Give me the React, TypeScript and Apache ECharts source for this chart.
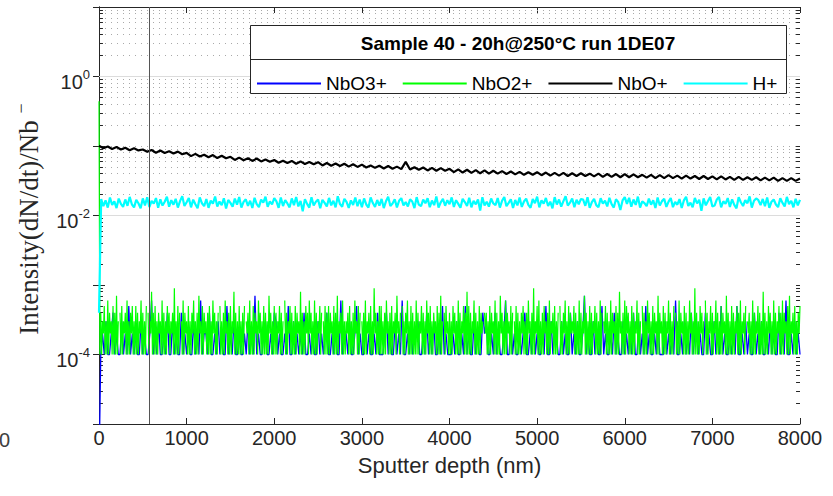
import React, { useEffect, useRef } from 'react';
import * as echarts from 'echarts';

// ---------------- data (intensities in units of 1e-4, i.e. value = n × 1e-4) ----------------
const UNIT = 1e-4;
const DEPTH_MAX = 8000; // nm
const STEP_NBO3 = 20; // nm between NbO3+ samples
const STEP_NBO2 = 10; // nm between NbO2+ samples
const STEP_NBO = 50; // nm between NbO+ samples
const STEP_H = 25; // nm between H+ samples
const MARKER_DEPTH = 570; // nm, vertical reference line
const X_TICK_STEP = 1000;
const Y_LABEL_EXPONENTS = [0, -2, -4];
const MINOR_TICK_NM = 45; // minor tick length along x, in axis units

const seriesNames = ['NbO3+', 'NbO2+', 'NbO+', 'H+'];
const seriesColors = ['#0000ff', '#00ff00', '#000000', '#00ffff'];
const seriesWidths = [1.3, 1.2, 2.2, 2.2];

const nbo3Plus = [
  0.02,
  1, 2, 1, 3, 1, 1, 2, 4, 1, 2, 1, 1, 3, 1, 2, 1, 5, 1, 2, 1,
  2, 1, 1, 3, 1, 2, 1, 1, 2, 6, 1, 2, 1, 3, 1, 1, 2, 1, 4, 1,
  1, 3, 1, 2, 1, 1, 4, 1, 2, 1, 2, 1, 1, 3, 1, 2, 1, 6, 1, 2,
  2, 1, 4, 1, 1, 2, 1, 3, 1, 2, 1, 1, 5, 1, 2, 1, 3, 1, 1, 2,
  1, 1, 2, 1, 3, 1, 2, 1, 7, 1, 2, 1, 1, 2, 3, 1, 1, 2, 1, 4,
  3, 1, 2, 1, 1, 2, 1, 5, 1, 1, 3, 1, 2, 1, 2, 1, 4, 1, 1, 2,
  1, 2, 1, 1, 3, 1, 2, 1, 2, 4, 1, 1, 2, 1, 3, 1, 1, 6, 1, 2,
  2, 1, 3, 1, 1, 2, 5, 1, 2, 1, 1, 3, 1, 2, 1, 1, 2, 1, 4, 1,
  1, 1, 2, 4, 1, 2, 1, 1, 3, 1, 2, 1, 6, 1, 1, 2, 1, 3, 1, 2,
  2, 3, 1, 1, 2, 1, 4, 1, 2, 1, 3, 1, 1, 2, 1, 5, 1, 2, 1, 1,
  1, 2, 1, 3, 1, 1, 2, 1, 5, 1, 2, 1, 1, 3, 1, 2, 1, 1, 4, 2,
  3, 1, 1, 2, 1, 4, 1, 2, 1, 1, 2, 6, 1, 1, 3, 1, 2, 1, 1, 2,
  1, 2, 4, 1, 1, 2, 1, 3, 1, 2, 1, 1, 2, 1, 5, 1, 1, 3, 1, 2,
  2, 1, 1, 3, 1, 2, 1, 1, 4, 1, 2, 1, 3, 1, 1, 2, 7, 1, 2, 1,
  1, 3, 1, 2, 1, 1, 5, 1, 2, 1, 1, 2, 1, 4, 1, 2, 1, 1, 3, 1,
  2, 1, 2, 1, 4, 1, 1, 3, 1, 2, 1, 5, 1, 2, 1, 1, 2, 1, 3, 1,
  1, 1, 3, 1, 2, 1, 2, 1, 6, 1, 1, 2, 1, 3, 1, 2, 1, 4, 1, 2,
  3, 1, 2, 1, 1, 4, 1, 2, 1, 1, 3, 1, 2, 1, 5, 1, 2, 1, 1, 2,
  1, 2, 1, 5, 1, 1, 2, 1, 3, 1, 2, 1, 1, 4, 1, 2, 1, 3, 1, 1,
  2, 1, 3, 1, 2, 1, 1, 4, 1, 2, 1, 6, 1, 1, 2, 1, 3, 1, 2, 1,
];

const nbo2Plus = [
  4400,
  1, 4, 1, 3, 2, 5, 1, 3, 1, 6, 1, 4, 2, 3, 1, 5, 1, 4, 1, 7,
  1, 3, 0, 4, 1, 5, 1, 3, 2, 4, 1, 6, 1, 3, 1, 4, 2, 5, 1, 3,
  1, 5, 1, 4, 1, 3, 2, 6, 1, 4, 1, 3, 1, 5, 0, 4, 1, 3, 2, 8,
  1, 4, 1, 5, 1, 3, 1, 4, 2, 3, 1, 6, 1, 4, 1, 3, 1, 5, 2, 4,
  1, 3, 2, 4, 1, 9, 1, 3, 1, 5, 1, 4, 0, 3, 1, 6, 1, 4, 2, 3,
  1, 5, 1, 3, 1, 4, 2, 6, 1, 3, 1, 4, 1, 7, 2, 3, 1, 5, 1, 4,
  2, 3, 1, 4, 1, 5, 1, 3, 1, 6, 2, 4, 1, 3, 1, 4, 0, 5, 1, 3,
  1, 4, 1, 6, 2, 3, 1, 4, 1, 5, 1, 3, 2, 8, 1, 4, 1, 3, 1, 5,
  1, 3, 1, 4, 1, 5, 0, 3, 2, 4, 1, 6, 1, 3, 1, 5, 1, 4, 2, 3,
  1, 6, 2, 4, 1, 3, 1, 5, 1, 4, 1, 3, 1, 7, 2, 4, 1, 3, 1, 5,
  1, 4, 1, 3, 2, 5, 1, 4, 1, 3, 0, 6, 1, 4, 1, 3, 2, 5, 1, 4,
  1, 3, 1, 5, 1, 4, 2, 3, 1, 8, 1, 4, 1, 3, 1, 5, 2, 4, 1, 6,
  2, 4, 1, 3, 1, 6, 1, 4, 1, 3, 2, 5, 1, 4, 0, 3, 1, 5, 1, 4,
  1, 5, 1, 4, 2, 3, 1, 5, 1, 4, 1, 7, 1, 3, 2, 4, 1, 6, 1, 3,
  1, 3, 2, 4, 1, 5, 1, 3, 1, 4, 1, 6, 2, 3, 1, 5, 1, 4, 0, 3,
  1, 4, 1, 6, 1, 3, 2, 4, 1, 5, 1, 3, 1, 9, 2, 4, 1, 3, 1, 5,
  1, 5, 1, 3, 1, 4, 1, 6, 2, 3, 1, 4, 1, 5, 1, 3, 2, 4, 1, 7,
  2, 3, 1, 4, 0, 5, 1, 3, 1, 4, 2, 6, 1, 3, 1, 5, 1, 4, 1, 3,
  1, 6, 1, 4, 1, 3, 2, 5, 1, 4, 1, 3, 1, 6, 2, 4, 1, 5, 1, 3,
  1, 4, 2, 3, 1, 5, 1, 4, 1, 7, 1, 3, 0, 4, 1, 5, 2, 3, 1, 4,
  1, 3, 1, 5, 2, 4, 1, 3, 1, 6, 1, 4, 1, 3, 2, 5, 1, 4, 1, 8,
  1, 5, 1, 4, 1, 3, 2, 6, 1, 4, 1, 3, 1, 5, 1, 4, 2, 3, 0, 4,
  2, 4, 1, 3, 1, 5, 1, 4, 2, 3, 1, 6, 1, 4, 1, 3, 1, 7, 2, 4,
  1, 3, 1, 6, 1, 4, 2, 3, 1, 5, 1, 4, 0, 3, 1, 5, 1, 4, 1, 3,
  1, 4, 2, 5, 1, 3, 1, 4, 1, 6, 2, 3, 1, 4, 1, 9, 1, 3, 2, 5,
  1, 6, 1, 3, 1, 4, 1, 5, 2, 3, 1, 4, 1, 6, 1, 3, 2, 4, 1, 5,
  1, 3, 1, 4, 0, 5, 1, 3, 1, 4, 2, 6, 1, 3, 1, 5, 1, 4, 2, 3,
  2, 5, 1, 4, 1, 3, 1, 6, 1, 4, 1, 3, 2, 7, 1, 4, 1, 3, 1, 5,
  1, 4, 1, 3, 2, 5, 1, 4, 1, 3, 1, 6, 1, 4, 0, 3, 2, 5, 1, 4,
  1, 3, 1, 6, 1, 4, 2, 3, 1, 5, 1, 4, 1, 8, 2, 3, 1, 4, 1, 6,
  1, 5, 2, 4, 1, 3, 1, 5, 1, 4, 1, 3, 2, 6, 1, 4, 1, 3, 0, 5,
  1, 4, 1, 3, 1, 6, 2, 4, 1, 3, 1, 5, 1, 4, 2, 3, 1, 7, 1, 4,
  2, 3, 1, 5, 1, 4, 1, 3, 2, 6, 1, 4, 1, 3, 1, 5, 0, 4, 1, 3,
  1, 6, 1, 4, 2, 3, 1, 5, 1, 4, 1, 3, 1, 6, 2, 4, 1, 3, 1, 9,
  1, 4, 1, 3, 1, 5, 2, 4, 1, 3, 0, 6, 1, 4, 1, 3, 2, 5, 1, 4,
  1, 3, 2, 6, 1, 4, 1, 3, 1, 5, 1, 4, 2, 3, 1, 7, 1, 4, 1, 3,
  1, 5, 1, 4, 1, 3, 2, 5, 1, 4, 1, 6, 1, 3, 2, 4, 1, 5, 0, 3,
  2, 4, 1, 3, 1, 6, 1, 4, 1, 3, 2, 5, 1, 4, 1, 3, 1, 8, 1, 4,
  1, 3, 1, 5, 2, 4, 1, 3, 1, 6, 1, 4, 1, 3, 2, 5, 1, 4, 1, 6,
  1, 4, 2, 3, 1, 5, 1, 7, 1, 3, 2, 4, 1, 5, 1, 3, 1, 4, 2, 5,
];

const nboPlus = [
  1010, 930, 985, 905, 965, 890, 945, 870, 925, 865,
  890, 825, 875, 800, 860, 795, 840, 780, 830, 760,
  795, 715, 770, 705, 750, 690, 740, 670, 725, 665,
  700, 630, 680, 625, 665, 610, 660, 600, 640, 595,
  630, 575, 615, 570, 610, 555, 600, 550, 590, 545,
  585, 525, 570, 520, 560, 515, 555, 505, 545, 500,
  540, 490, 525, 485, 520, 475, 515, 470, 505, 465,
  590, 460, 495, 455, 490, 445, 485, 440, 480, 440,
  470, 420, 460, 415, 455, 410, 450, 405, 445, 400,
  440, 400, 435, 395, 430, 390, 425, 385, 420, 385,
  420, 380, 415, 375, 410, 375, 410, 370, 405, 370,
  405, 370, 400, 365, 400, 360, 395, 360, 395, 355,
  395, 355, 390, 355, 385, 350, 385, 345, 380, 345,
  380, 345, 375, 340, 375, 340, 370, 335, 370, 335,
  365, 330, 365, 330, 360, 325, 360, 325, 355, 325,
  355, 320, 350, 320, 350, 315, 345, 315, 345, 315,
  340,
];

const hPlus = [
  4,
  172, 136, 165, 130, 181, 142, 160, 128, 175, 147, 133, 170, 138, 185, 145, 131, 168, 150, 127, 176,
  140, 183, 132, 162, 148, 178, 129, 171, 139, 158, 186, 134, 166, 143, 174, 130, 161, 190, 137, 155,
  179, 131, 169, 145, 127, 182, 150, 136, 173, 129, 164, 148, 188, 135, 159, 141, 177, 126, 167, 152,
  134, 175, 143, 184, 130, 157, 171, 138, 163, 128, 180, 146, 132, 169, 153, 187, 133, 160, 144, 178,
  160, 129, 181, 137, 166, 149, 131, 176, 141, 185, 135, 162, 115, 172, 147, 130, 183, 139, 158, 170,
  127, 168, 152, 135, 179, 140, 163, 131, 189, 146, 134, 174, 157, 129, 165, 142, 181, 136, 170, 132,
  176, 144, 130, 182, 151, 133, 167, 139, 173, 128, 160, 186, 137, 149, 171, 131, 163, 178, 140, 156,
  135, 171, 159, 128, 184, 143, 136, 169, 150, 177, 132, 164, 141, 188, 130, 155, 173, 138, 166, 145,
  182, 133, 166, 147, 129, 174, 156, 137, 180, 131, 162, 145, 170, 118, 183, 139, 158, 134, 176, 149,
  141, 178, 130, 163, 185, 136, 152, 171, 128, 167, 140, 181, 133, 159, 175, 142, 129, 172, 150, 187,
  131, 165, 148, 179, 137, 158, 127, 184, 144, 170, 134, 161, 189, 139, 153, 176, 132, 168, 145, 173,
  169, 138, 183, 129, 156, 174, 141, 131, 177, 148, 163, 135, 180, 146, 130, 171, 157, 120, 165, 184,
  147, 180, 134, 170, 142, 187, 130, 160, 151, 136, 175, 143, 166, 128, 182, 139, 161, 174, 133, 158,
  178, 132, 157, 143, 172, 128, 165, 186, 137, 153, 131, 179, 149, 168, 117, 176, 140, 162, 184, 135,
  139, 169, 185, 131, 160, 147, 178, 133, 171, 142, 127, 183, 155, 137, 167, 150, 188, 130, 163, 176,
  166, 141, 173, 136, 181, 129, 158, 170, 144, 132, 177, 152, 135, 185, 146, 163, 131, 174, 140, 168,
];

// ---------------- styling ----------------
const SANS = 'Liberation Sans, Arial, Helvetica, sans-serif';
const SERIF = 'Liberation Serif, Times New Roman, serif';
const AXIS_COLOR = '#262626';

// zero counts cannot be drawn on a log axis (they leave a gap, as in the original)
function toPairs(values: number[], step: number) {
  return values.map((v, i) => [i * step, v > 0 ? v * UNIT : null]);
}

const majorGridValues = Y_LABEL_EXPONENTS.map((e) => Math.pow(10, e));
const minorGridValues: number[] = [];
for (let e = -5; e <= 0; e++) {
  for (let k = 2; k <= 9; k++) minorGridValues.push(k * Math.pow(10, e));
}
minorGridValues.push(1e-1, 1e-3);

export default function App() {
  const ref = useRef<HTMLDivElement>(null);

  useEffect(() => {
    document.body.style.margin = '0';
    if (!ref.current) return;
    const chart = echarts.init(ref.current, undefined, { renderer: 'svg' });

    const yLabelFormatter = (v: number) => {
      const e = Math.round(Math.log10(v));
      return Y_LABEL_EXPONENTS.includes(e) ? `{b|10}{s|${e}}` : '';
    };

    const minorTickStyle = { color: AXIS_COLOR, width: 1, type: 'solid' as const };
    const gridMarkLine = {
      silent: true,
      symbol: ['none', 'none'],
      z: 1,
      label: { show: false },
      animation: false,
      data: [
        ...minorGridValues.map((v) => ({
          yAxis: v,
          lineStyle: { color: '#a9a9a9', width: 1, type: [1, 5] as any },
        })),
        ...majorGridValues.map((v) => ({
          yAxis: v,
          lineStyle: { color: '#dcdcdc', width: 1, type: 'solid' as const },
        })),
        // inward minor ticks on the left and right axes
        ...minorGridValues.map((v) => [
          { coord: [0, v], lineStyle: minorTickStyle },
          { coord: [MINOR_TICK_NM, v] },
        ]),
        ...minorGridValues.map((v) => [
          { coord: [DEPTH_MAX - MINOR_TICK_NM, v], lineStyle: minorTickStyle },
          { coord: [DEPTH_MAX, v] },
        ]),
      ],
    };

    const lineSeries = (i: number, data: any[], extra: any = {}) => ({
      name: seriesNames[i],
      type: 'line',
      data,
      color: seriesColors[i],
      symbol: 'none',
      showSymbol: false,
      connectNulls: false,
      clip: true,
      z: 2,
      lineStyle: { color: seriesColors[i], width: seriesWidths[i] },
      emphasis: { disabled: true },
      ...extra,
    });

    const axisCommonX = {
      type: 'value' as const,
      min: 0,
      max: DEPTH_MAX,
      interval: X_TICK_STEP,
      splitLine: { show: false },
      axisLine: { show: true, onZero: false, lineStyle: { color: AXIS_COLOR, width: 1 } },
      axisTick: { show: true, inside: true, length: 6, lineStyle: { color: AXIS_COLOR } },
    };
    const axisCommonY = {
      type: 'log' as const,
      logBase: 10,
      min: 1e-5,
      max: 10,
      splitLine: { show: false },
      axisLine: { show: true, lineStyle: { color: AXIS_COLOR, width: 1 } },
      axisTick: { show: true, inside: true, length: 6, lineStyle: { color: AXIS_COLOR } },
    };

    chart.setOption({
      animation: false,
      textStyle: { fontFamily: SANS },
      grid: { left: 99, right: 33, top: 7, bottom: 72, containLabel: false, outerBoundsMode: 'none' },
      xAxis: [
        {
          ...axisCommonX,
          position: 'bottom',
          axisLabel: {
            fontSize: 20,
            color: AXIS_COLOR,
            margin: 4,
            fontFamily: SANS,
            formatter: (v: number) => String(v),
          },
          name: 'Sputter depth (nm)',
          nameLocation: 'middle',
          nameGap: 30,
          nameTextStyle: { fontSize: 22, color: AXIS_COLOR, fontFamily: SANS },
        },
        { ...axisCommonX, position: 'top', axisLabel: { show: false } },
      ],
      yAxis: [
        {
          ...axisCommonY,
          position: 'left',
          axisLabel: {
            formatter: yLabelFormatter,
            margin: 9,
            color: AXIS_COLOR,
            padding: [7, 0, 0, 0],
            rich: {
              b: { fontSize: 20, verticalAlign: 'bottom', color: AXIS_COLOR, fontFamily: SANS },
              s: { fontSize: 13, verticalAlign: 'top', padding: [0, 0, 11, 0], color: AXIS_COLOR, fontFamily: SANS },
            },
          },
        },
        { ...axisCommonY, position: 'right', axisLabel: { show: false } },
      ],
      legend: {
        data: seriesNames,
        left: 257,
        top: 74,
        icon: 'rect',
        itemWidth: 64,
        itemHeight: 2,
        itemGap: 16,
        padding: 0,
        textStyle: { fontSize: 19, color: '#000', fontFamily: SANS },
        selectedMode: false,
        z: 6,
      },
      graphic: [
        {
          type: 'rect',
          z: 5,
          shape: { x: 250.5, y: 25.5, width: 536, height: 68 },
          style: { fill: '#ffffff', stroke: AXIS_COLOR, lineWidth: 1 },
          silent: true,
        },
        {
          type: 'line',
          z: 5,
          shape: { x1: 250.5, y1: 59.5, x2: 786.5, y2: 59.5 },
          style: { stroke: AXIS_COLOR, lineWidth: 1 },
          silent: true,
        },
        {
          type: 'text',
          z: 6,
          x: 518,
          y: 43,
          style: {
            text: 'Sample 40 - 20h@250°C run 1DE07',
            fontSize: 19,
            fontWeight: 'bold',
            fontFamily: SANS,
            fill: '#000',
            align: 'center',
            verticalAlign: 'middle',
            textAlign: 'center',
            textVerticalAlign: 'middle',
          },
          silent: true,
        },
        {
          type: 'text',
          z: 6,
          x: 27,
          y: 219,
          rotation: Math.PI / 2,
          style: {
            text: '{a|Intensity(dN/dt)/Nb }{s|−}',
            fontSize: 27,
            fontFamily: SERIF,
            fill: AXIS_COLOR,
            align: 'center',
            verticalAlign: 'middle',
            textAlign: 'center',
            textVerticalAlign: 'middle',
            rich: {
              a: { fontSize: 27, fontFamily: SERIF, fill: AXIS_COLOR, color: AXIS_COLOR, verticalAlign: 'bottom' },
              s: { fontSize: 18, fontFamily: SERIF, fill: AXIS_COLOR, color: AXIS_COLOR, verticalAlign: 'top', padding: [0, 0, 12, 0] },
            },
          },
          silent: true,
        },
        {
          type: 'text',
          z: 6,
          x: -1,
          y: 440,
          style: {
            text: '0',
            fontSize: 20,
            fontFamily: SANS,
            fill: '#404040',
            align: 'left',
            verticalAlign: 'middle',
            textAlign: 'left',
            textVerticalAlign: 'middle',
          },
          silent: true,
        },
      ],
      series: [
        lineSeries(0, toPairs(nbo3Plus, STEP_NBO3), { markLine: gridMarkLine }),
        lineSeries(1, toPairs(nbo2Plus, STEP_NBO2)),
        lineSeries(2, toPairs(nboPlus, STEP_NBO)),
        lineSeries(3, toPairs(hPlus, STEP_H), {
          markLine: {
            silent: true,
            symbol: ['none', 'none'],
            z: 4,
            label: { show: false },
            animation: false,
            data: [{ xAxis: MARKER_DEPTH, lineStyle: { color: '#555555', width: 1, type: 'solid' } }],
          },
        }),
      ],
    });

    return () => chart.dispose();
  }, []);

  return <div ref={ref} style={{ width: 833, height: 496 }} />;
}
